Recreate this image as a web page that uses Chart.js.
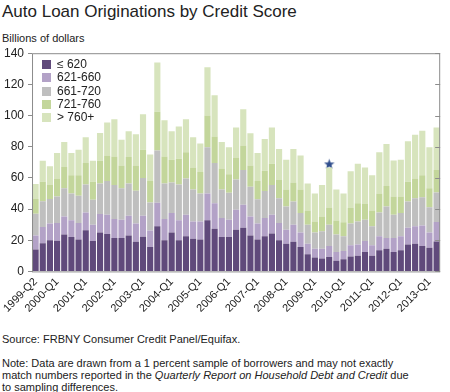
<!DOCTYPE html>
<html>
<head>
<meta charset="utf-8">
<script src="https://cdn.jsdelivr.net/npm/chart.js@4"></script>
<style>
  body { margin: 0; width: 450px; height: 392px; background: #fff; font-family: "Liberation Sans", Arial, sans-serif; color: #222; position: relative; overflow: hidden; }
  #title { position: absolute; left: 2px; top: 2px; font-size: 17px; }
  #units { position: absolute; left: 2px; top: 32px; font-size: 11px; }
  #wrap { position: absolute; left: 0; top: 42px; width: 450px; height: 277px; }
  #legend { position: absolute; left: 42px; top: 58px; font-size: 12px; }
  .item { height: 13.3px; line-height: 13.3px; white-space: nowrap; }
  .box { display: inline-block; width: 9px; height: 9px; margin-right: 6px; vertical-align: -1px; }
  #source { position: absolute; left: 2px; top: 333px; font-size: 11px; }
  #note { position: absolute; left: 2px; top: 357px; font-size: 11px; line-height: 12px; }
</style>
</head>
<body>
<div id="title">Auto Loan Originations by Credit Score</div>
<div id="units">Billions of dollars</div>
<div id="wrap"><canvas id="chart"></canvas></div>
<div id="legend"></div>
<div id="source">Source: FRBNY Consumer Credit Panel/Equifax.</div>
<div id="note">Note: Data are drawn from a 1 percent sample of borrowers and may not exactly<br>match numbers reported in the <i>Quarterly Report on Household Debt and Credit</i> due<br>to sampling differences.</div>
<script>
// quarters 1999-Q2 .. 2013-Q2
const quarters = [];
for (let y = 1999; y <= 2013; y++) {
    for (let q = 1; q <= 4; q++) {
        if (y == 1999 && q < 2) continue;
        if (y == 2013 && q > 2) break;
        quarters.push(y + "-Q" + q);
    }
}
const tickLabels = ["1999-Q2", "2000-Q1", "2001-Q1", "2002-Q1", "2003-Q1", "2004-Q1", "2005-Q1",
    "2006-Q1", "2007-Q1", "2008-Q1", "2009-Q1", "2010-Q1", "2011-Q1", "2012-Q1", "2013-Q1"];

const seriesNames = ["\u2264 620", "621-660", "661-720", "721-760", "> 760+"];
const seriesColors = ["#604A7B", "#B3A2C7", "#BFBFBF", "#C3D69B", "#D7E4BD"];

const under620 = [14, 18, 20, 19.7, 23.7, 22, 20.5, 26.4, 19.5, 25, 24, 21.5, 21.5, 23, 19, 22.2, 15.6, 29,
    20, 25, 20, 22.6, 21, 20.5, 32.8, 27.3, 22, 22, 26.8, 28, 23, 20.5, 22.6, 24.3, 20, 17.8, 19, 15.6,
    11, 8.9, 8.2, 9.3, 6.8, 7.8, 9.5, 10, 12.5, 10, 13.5, 14.6, 12.5, 13.5, 17.3, 17.8, 16.3, 15.2, 19.2];
const s621to660 = [9, 10.5, 10.7, 11.3, 11.6, 10.8, 10.5, 11.4, 10.5, 11.8, 12.4, 12.1, 11.7, 12.7, 11.7, 13.5, 10.6, 15,
    13.6, 12.4, 12.8, 13.8, 11, 11.5, 17.2, 16.5, 12.2, 11.2, 12.7, 14.7, 12.3, 10.2, 11.6, 12.1, 11, 9, 11, 9.4,
    6.8, 5.7, 6.4, 7, 5.7, 5.3, 7.2, 7.3, 7, 6.7, 9.1, 6.9, 9, 9.1, 10.7, 11.2, 13.1, 9.8, 12.5];
const s661to720 = [14, 16.5, 15.8, 17, 18, 17.2, 17.6, 18, 16, 19.6, 21.6, 21.8, 20.1, 20.7, 21.1, 24.3, 18, 33.6,
    22.8, 19.6, 23, 23.2, 20.6, 18, 29.7, 25.8, 18.4, 17.3, 19.5, 22.3, 19, 15.6, 17.4, 19, 16, 14.8, 14.8, 12.4,
    12.2, 10.4, 11.2, 13.7, 11.2, 9.5, 14, 14.7, 13.7, 12.3, 15.2, 20.1, 14.9, 14.8, 16.8, 18, 18.2, 16.2, 19];
const s721to760 = [9.5, 12.5, 8.9, 11.6, 13.7, 11.7, 13.1, 13.8, 11.5, 14.6, 16.4, 18.4, 14.7, 17, 16.2, 18, 13.8, 24.9,
    17.4, 14.7, 16.5, 16.9, 14, 13.8, 20.3, 16.9, 13.4, 11.9, 14, 15.8, 13.7, 11.7, 12.9, 13.6, 11.6, 11, 12.2, 15.2,
    9, 7, 9.5, 11, 8.9, 8.9, 9.9, 11.8, 10.1, 10, 12.2, 13.2, 11.6, 10.6, 12.7, 12.6, 14.1, 12.1, 14.3];
const over760 = [9.5, 13.5, 12.1, 16.4, 16, 14.3, 16.3, 16.4, 13.5, 17.8, 21.1, 23.8, 16.4, 16.6, 20, 22.8, 17, 31.5,
    23.2, 18.3, 20.7, 21.2, 19.4, 18.2, 31, 26.5, 17, 17.3, 19.4, 23.2, 20.6, 18, 20.5, 23.4, 20, 19.1, 21.6, 21.8,
    17.4, 18, 20.1, 25.6, 20, 18.5, 23.7, 25.2, 23.3, 22.7, 26.5, 27, 23.2, 23.7, 26, 28.1, 28.6, 26.4, 27.4];

// star marker above 2009-Q3
const starQuarter = "2009-Q3";
const starValue = 69;

const allSeries = [under620, s621to660, s661to720, s721to760, over760];

// filled star image for the point style
function makeStar(size, color) {
    const c = document.createElement("canvas");
    c.width = size; c.height = size;
    const g = c.getContext("2d");
    const r = size / 2, ri = r * 0.42;
    g.beginPath();
    for (let i = 0; i < 10; i++) {
        const rad = i % 2 == 0 ? r : ri;
        const a = -Math.PI / 2 + i * Math.PI / 5;
        g.lineTo(r + rad * Math.cos(a), r + 0.5 + rad * Math.sin(a));
    }
    g.closePath();
    g.fillStyle = color;
    g.fill();
    return c;
}

const datasets = allSeries.map((vals, i) => ({
    label: seriesNames[i],
    data: vals,
    backgroundColor: seriesColors[i],
    borderWidth: 0,
    categoryPercentage: 1,
    barPercentage: 0.86,
    stack: "credit"
}));

datasets.push({
    type: "line",
    label: "star",
    data: quarters.map(q => q == starQuarter ? starValue : null),
    showLine: false,
    pointStyle: makeStar(11, "#2F4D8C"),
    pointRadius: 6,
    stack: "star"
});

// html legend
const legend = document.getElementById("legend");
seriesNames.forEach((name, i) => {
    const row = document.createElement("div");
    row.className = "item";
    row.innerHTML = '<span class="box" style="background:' + seriesColors[i] + '"></span>' + name;
    legend.appendChild(row);
});

// frame with inward ticks on the right side
const framePlugin = {
    id: "frame",
    afterDraw(chart) {
        const { ctx, chartArea: a, scales } = chart;
        ctx.save();
        ctx.strokeStyle = "#8c8c8c";
        ctx.lineWidth = 1;
        ctx.strokeRect(a.left + 0.5, a.top + 0.5, a.right - a.left - 1, a.bottom - a.top);
        scales.y.ticks.forEach(t => {
            const y = Math.round(scales.y.getPixelForValue(t.value)) + 0.5;
            ctx.beginPath();
            ctx.moveTo(a.right - 5, y);
            ctx.lineTo(a.right, y);
            ctx.stroke();
        });
        ctx.restore();
    }
};

new Chart(document.getElementById("chart"), {
    type: "bar",
    data: { labels: quarters, datasets: datasets },
    options: {
        responsive: true,
        maintainAspectRatio: false,
        animation: false,
        layout: { padding: { top: 8, right: 3 } },
        scales: {
            x: {
                stacked: true,
                grid: { display: false, drawTicks: false },
                border: { display: false },
                ticks: {
                    autoSkip: false,
                    maxRotation: 45,
                    minRotation: 45,
                    color: "#222",
                    padding: 4,
                    font: { family: "Liberation Sans", size: 11 },
                    callback: function (v) {
                        const lab = this.getLabelForValue(v);
                        return tickLabels.includes(lab) ? lab : "";
                    }
                }
            },
            y: {
                stacked: true,
                min: 0,
                max: 140,
                ticks: { stepSize: 20, color: "#222", padding: 4, font: { family: "Liberation Sans", size: 12 } },
                grid: { drawOnChartArea: false, tickLength: 4, color: "#8c8c8c" },
                border: { display: false }
            }
        },
        plugins: {
            legend: { display: false },
            tooltip: { enabled: false }
        }
    },
    plugins: [framePlugin]
});
</script>
</body>
</html>
